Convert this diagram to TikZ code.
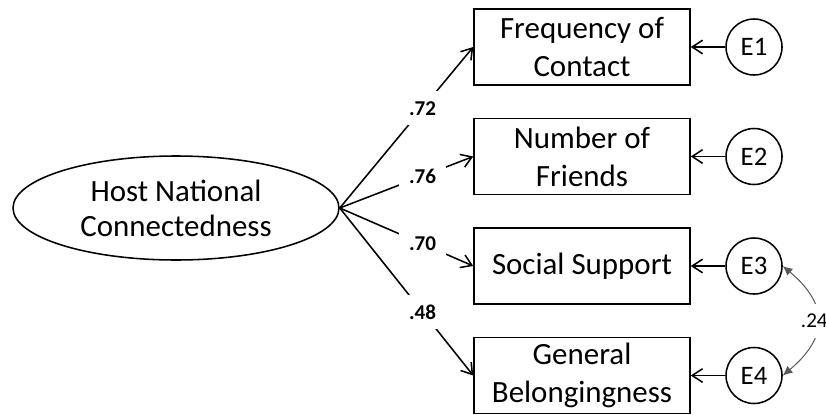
\documentclass[tikz,border=0pt]{standalone}
\usepackage{fontspec}
\setmainfont{Carlito}
\usepackage{tikz}
\usetikzlibrary{arrows.meta}
\usetikzlibrary{shapes}
\usetikzlibrary{positioning}

\tikzset{
	latent/.style={draw, ellipse, line width=1.1pt, minimum width=8.15cm, minimum height=2.6cm, inner sep=0pt, align=center, font=\fontsize{22}{25}\selectfont},
	indicator/.style={draw, line width=1.1pt, minimum width=5.4cm, minimum height=1.9cm, inner sep=0pt, align=center, font=\fontsize{22}{27}\selectfont},
	errorterm/.style={draw, circle, line width=1.1pt, minimum size=1.4cm, inner sep=0pt, font=\fontsize{19}{21}\selectfont},
	loading/.style={fill=white, inner sep=7pt, font=\bfseries\fontsize{15}{17}\selectfont},
	barb/.style={line width=1.1pt, -{Straight Barb[length=2.6mm, width=3.4mm]}},
}

\begin{document}
\begin{tikzpicture}
		\def\dy{2.7375}
		\def\top{9.175}
		\useasboundingbox (0,0) rectangle (20.65,10.35);
		
		\node[latent] (HNC) at (4.4,5.15) {Host National\\Connectedness};
		
		\foreach \n/\txt/\w in {1/{Frequency of\\Contact}/.72, 2/{Number of\\Friends}/.76, 3/{Social Support}/.70, 4/{General\\Belongingness}/.48}{
			\node[indicator] (I-\n) at (14.55,\top-\n*\dy+\dy) {\txt};
			\node[errorterm] (E-\n) at (18.85,\top-\n*\dy+\dy) {E\n};
			\draw[barb] (E-\n) -- (I-\n);
			\draw[barb] (HNC.east) -- node[loading, pos=0.62] {\w} (I-\n.west);
		}
		
		%covariance of E3 and E4
		\draw[gray!70!black, line width=0.7pt, {Latex[length=2.4mm, width=2.2mm]}-{Latex[length=2.4mm, width=2.2mm]}]
			(E-3.east) to[bend left=50, looseness=1.4] node[fill=white, inner sep=7pt, xshift=-2pt, text=black, font=\fontsize{15}{17}\selectfont] {.24} (E-4.east);
		\end{tikzpicture}
\end{document}
